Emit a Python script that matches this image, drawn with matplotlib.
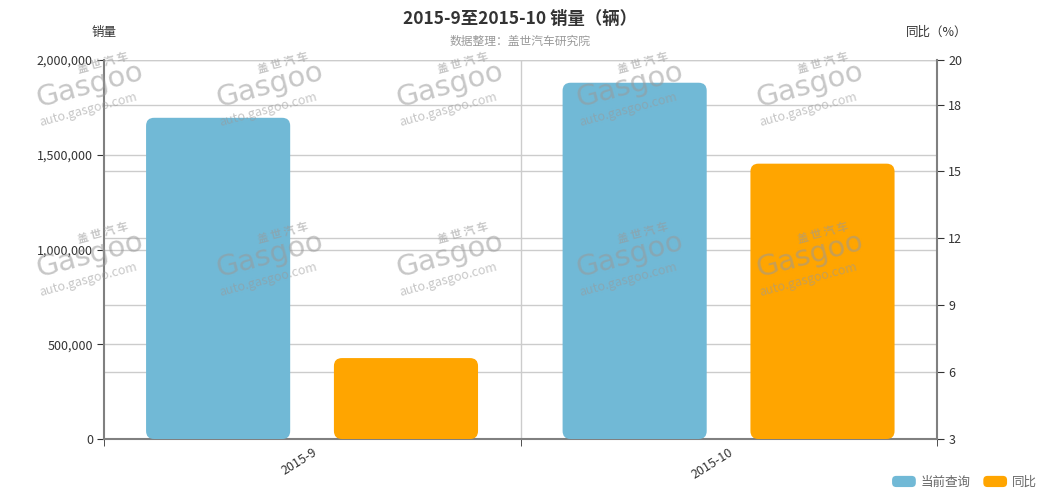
import numpy as np
import matplotlib
matplotlib.use("Agg")
import matplotlib.pyplot as plt
from matplotlib.patches import FancyBboxPatch, Patch
from matplotlib.legend_handler import HandlerPatch
from matplotlib.ticker import FuncFormatter
import matplotlib.transforms as mtransforms

plt.rcParams['font.family'] = ['Noto Sans CJK SC', 'DejaVu Sans']

## data
months = ['2015-9', '2015-10']
sales = [1695000, 1880000]   ## 当前查询 (辆)
yoy = [6.63, 15.35]          ## 同比 (%)

left_ticks = [0, 500000, 1000000, 1500000, 2000000]
right_ticks = [3, 6, 9, 12, 15, 18, 20]

BLUE = '#71b9d6'
ORANGE = '#ffa500'
GRID = '#cccccc'
SPINE = '#808080'
TXT = '#333333'

fig = plt.figure(figsize=(10.4, 5.0), dpi=100)
ax = fig.add_axes([0.1, 0.122, 0.801, 0.758])
ax2 = ax.twinx()

x = np.arange(len(months))
ax.set_xlim(-0.5, 1.5)
ax.set_ylim(0, 2000000)
ax2.set_ylim(3, 20)

## rounded bars: make plain bars, then swap them for rounded boxes
def round_bars(axis, rects, color, r_px=8):
    inv = axis.transData.inverted()
    p0 = inv.transform((0, 0))
    p1 = inv.transform((r_px, r_px))
    rx, ry = p1[0] - p0[0], p1[1] - p0[1]
    for r in rects:
        bx, by = r.get_x(), r.get_y()
        bw, bh = r.get_width(), r.get_height()
        r.remove()
        axis.add_patch(FancyBboxPatch((bx, by), bw, bh,
                                      boxstyle="round,pad=0,rounding_size=%g" % rx,
                                      mutation_aspect=ry / rx,
                                      fc=color, ec='none', zorder=3))

bw = 0.346
b1 = ax.bar(x - 0.226, sales, width=bw, color=BLUE)
b2 = ax2.bar(x + 0.225, yoy, width=bw, color=ORANGE, bottom=0)
## bars on the right axis start at its floor (3)
for r, v in zip(b2, yoy):
    r.set_y(3)
    r.set_height(v - 3)
round_bars(ax, b1, BLUE)
round_bars(ax2, b2, ORANGE)

## grid: left-axis lines and right-axis lines, both under the bars
ax.set_yticks(left_ticks)
for v in left_ticks:
    ax.axhline(v, color=GRID, lw=1, zorder=0.5)
blend = mtransforms.blended_transform_factory(ax.transAxes, ax2.transData)
for v in right_ticks:
    ax.plot([0, 1], [v, v], transform=blend, color=GRID, lw=1, zorder=0.5)
ax.axvline(0.5, color=GRID, lw=1, zorder=0.5)

ax.yaxis.set_major_formatter(FuncFormatter(lambda v, p: format(int(v), ',')))
ax2.set_yticks(right_ticks)

## x axis: labels at category centres, tick marks at the boundaries
ax.set_xticks(x)
ax.set_xticklabels(months, rotation=32, ha='right', rotation_mode='anchor')
ax.set_xticks([-0.5, 0.5, 1.5], minor=True)
ax.tick_params(axis='x', which='major', length=0, pad=5, labelsize=9, colors=TXT)
ax.tick_params(axis='x', which='minor', length=5, direction='out', color='#333333')
ax.tick_params(axis='y', length=5, labelsize=9, colors=TXT, pad=3)
ax2.tick_params(axis='y', length=5, labelsize=9, colors=TXT, pad=3)

for a in (ax, ax2):
    a.spines['top'].set_visible(False)
    for s in ('left', 'right', 'bottom'):
        a.spines[s].set_color(SPINE)
        a.spines[s].set_linewidth(1.5)
ax.spines['right'].set_visible(False)
ax2.spines['left'].set_visible(False)
ax2.spines['bottom'].set_visible(False)

ax.text(0, 1.055, '销量', transform=ax.transAxes, ha='center', va='bottom',
        fontsize=9, color=TXT)
ax.text(1, 1.055, '同比（%）', transform=ax.transAxes, ha='center', va='bottom',
        fontsize=9, color=TXT)

fig.text(0.5, 0.963, '2015-9至2015-10 销量（辆）', ha='center', va='center',
         fontsize=12.5, fontweight='bold', color='#333333')
fig.text(0.5, 0.918, '数据整理：盖世汽车研究院', ha='center', va='center',
         fontsize=8.5, color='#999999')

## watermark
wm_x = [90, 270, 450, 630, 810]
wm_y = [85, 255]
for wy in wm_y:
    for wx in wm_x:
        fx, fy = wx / 1040, 1 - wy / 500
        fig.text(fx + 0.012, fy + 0.044, '盖 世 汽 车', fontsize=8, color='#999999',
                 alpha=0.55, rotation=15, ha='center', va='center', zorder=10,
                 fontweight='bold')
        fig.text(fx, fy, 'Gasgoo', fontsize=21, color='#999999', alpha=0.55,
                 rotation=15, ha='center', va='center', zorder=10,
                 family='DejaVu Sans')
        fig.text(fx - 0.002, fy - 0.05, 'auto.gasgoo.com', fontsize=9,
                 color='#999999', alpha=0.55, rotation=15, ha='center',
                 va='center', zorder=10)

## legend with rounded swatches
class RoundHandler(HandlerPatch):
    def create_artists(self, legend, orig, xd, yd, w, h, fs, trans):
        p = FancyBboxPatch((-xd, -yd), w, h,
                           boxstyle="round,pad=0,rounding_size=3",
                           fc=orig.get_facecolor(), ec='none', transform=trans)
        return [p]

handles = [Patch(fc=BLUE), Patch(fc=ORANGE)]
leg = fig.legend(handles, ['当前查询', '同比'], loc='lower right',
                 bbox_to_anchor=(1.008, 0.0), ncol=2, frameon=False,
                 fontsize=9, handlelength=1.9, handleheight=1.0,
                 handletextpad=0.4, columnspacing=1.0,
                 handler_map={Patch: RoundHandler()})
for t in leg.get_texts():
    t.set_color('#666666')

fig.savefig('out.png', dpi=100)
